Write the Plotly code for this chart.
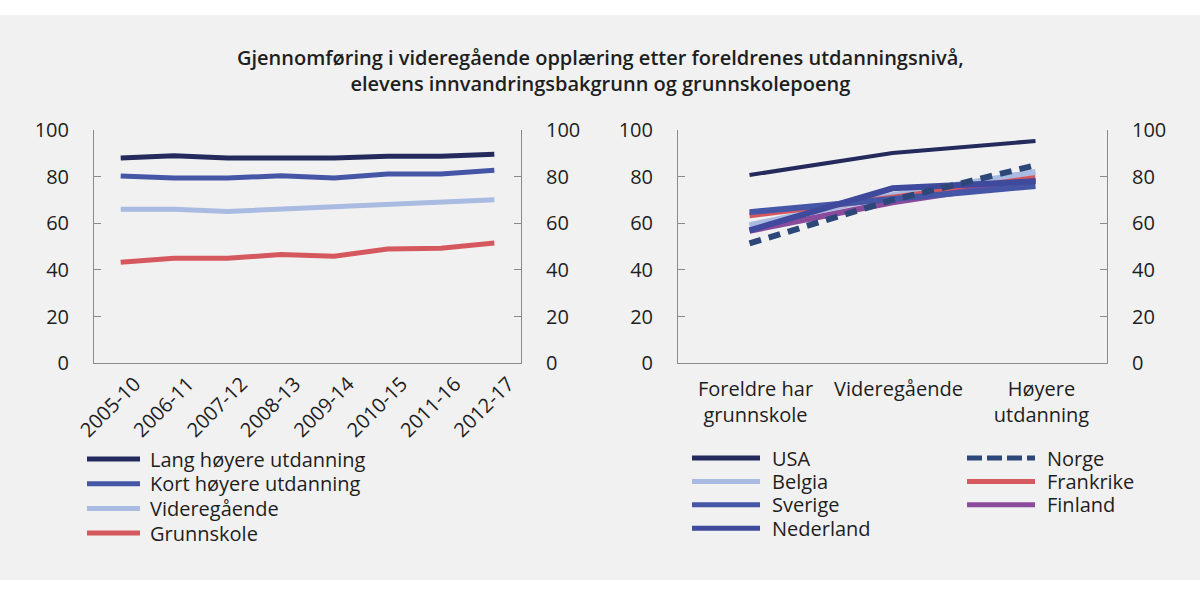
import plotly.graph_objects as go

# left panel: by parents' education, cohorts
periods = ["2005-10", "2006-11", "2007-12", "2008-13", "2009-14", "2010-15", "2011-16", "2012-17"]
lang_hoyere = [88, 89, 88, 88, 88, 88.7, 88.7, 89.6]
kort_hoyere = [80.3, 79.4, 79.4, 80.4, 79.4, 81.1, 81.1, 82.7]
videregaaende = [66, 66, 65.1, 66.1, 66.9, 68.4, 69.4, 70.1]
grunnskole = [43.3, 45, 45, 46.6, 45.9, 49, 49.3, 51.6]

# right panel: countries by parents' education level
levels = ["Foreldre har<br>grunnskole", "Videregående", "Høyere<br>utdanning"]
usa = [80.7, 90.1, 95.3]
belgia = [59.2, 72, 82]
sverige = [64.8, 70.5, 76]
nederland = [57, 75, 78]
norge = [51.4, 70, 84.9]
frankrike = [63.4, 71, 79.4]
finland = [56.8, 69, 78.3]

W, H = 1200, 595
FONT = "Open Sans, Noto Sans, sans-serif"
TXT = "#1e1e1e"
AX = "#8a8a8a"
FS = 20


def px(x):
    return x / W


def py(y):
    return 1 - y / H


left_series = [
    ("Lang høyere utdanning", lang_hoyere, "#252a5c", "solid"),
    ("Kort høyere utdanning", kort_hoyere, "#4656a6", "solid"),
    ("Videregående", videregaaende, "#a9bbe1", "solid"),
    ("Grunnskole", grunnskole, "#d6585f", "solid"),
]

right_series = [
    ("USA", usa, "#252a5c", "solid", 4),
    ("Belgia", belgia, "#a9bbe1", "solid", 6),
    ("Frankrike", frankrike, "#d6585f", "solid", 6),
    ("Finland", finland, "#8a4b9d", "solid", 6),
    ("Sverige", sverige, "#4656a6", "solid", 6),
    ("Nederland", nederland, "#3f4a9c", "solid", 6),
    ("Norge", norge, "#2c4778", "12px,8px", 6),
]

fig = go.Figure()

for name, vals, color, dash in left_series[::-1]:
    fig.add_trace(go.Scatter(
        x=periods, y=vals, mode="lines", name=name,
        line={"color": color, "width": 5, "dash": dash},
        xaxis="x", yaxis="y", showlegend=False,
    ))

for name, vals, color, dash, width in right_series:
    fig.add_trace(go.Scatter(
        x=levels, y=vals, mode="lines", name=name,
        line={"color": color, "width": width, "dash": dash},
        xaxis="x2", yaxis="y3", showlegend=False,
    ))

# empty traces so the mirrored right-hand axes get drawn with labels
fig.add_trace(go.Scatter(x=[], y=[], xaxis="x", yaxis="y2", showlegend=False, hoverinfo="skip"))
fig.add_trace(go.Scatter(x=[], y=[], xaxis="x2", yaxis="y4", showlegend=False, hoverinfo="skip"))

ydom = [py(363.3), py(130)]
yaxis_common = dict(
    range=[0, 100], tickvals=[0, 20, 40, 60, 80, 100],
    showgrid=False, zeroline=False, showline=True, linecolor=AX, linewidth=1,
    ticks="inside", ticklen=7, tickcolor=AX, automargin=False,
    tickfont={"size": FS, "color": TXT}, ticklabelstandoff=20,
    domain=ydom,
)
xaxis_common = dict(
    type="category", showline=True, linecolor=AX, linewidth=1,
    showgrid=False, ticks="", automargin=False,
    tickfont={"size": FS, "color": TXT},
)

shapes = [dict(type="rect", xref="paper", yref="paper", x0=0, x1=1,
               y0=py(580), y1=py(15), fillcolor="#f1f1f1", line={"width": 0},
               layer="below")]
annotations = [dict(
    text="Gjennomføring i videregående opplæring etter foreldrenes utdanningsnivå,"
         "<br>elevens innvandringsbakgrunn og grunnskolepoeng",
    xref="paper", yref="paper", x=0.5, y=py(70.5), xanchor="center", yanchor="middle",
    showarrow=False, font={"size": FS, "color": TXT, "family": FONT, "weight": 600},
)]


def legend_entry(name, color, dash, x0, x1, xt, y):
    if dash != "solid":
        dash = "15px,5px"
    shapes.append(dict(type="line", xref="paper", yref="paper",
                       x0=px(x0), x1=px(x1), y0=py(y), y1=py(y),
                       line={"color": color, "width": 5, "dash": dash}))
    annotations.append(dict(text=name, xref="paper", yref="paper", x=px(xt), y=py(y),
                            xanchor="left", yanchor="middle", showarrow=False,
                            borderpad=0,
                            font={"size": FS, "color": TXT, "family": FONT}))


for i, (name, vals, color, dash) in enumerate(left_series):
    legend_entry(name, color, dash, 87, 140, 149, 459 + i * 24.7)

lookup = {s[0]: s for s in right_series}
for i, name in enumerate(["USA", "Belgia", "Sverige", "Nederland"]):
    legend_entry(name, lookup[name][2], lookup[name][3], 692, 760, 771, 458 + i * 23.4)
for i, name in enumerate(["Norge", "Frankrike", "Finland"]):
    legend_entry(name, lookup[name][2], lookup[name][3], 967, 1035, 1046, 458 + i * 23.4)

fig.update_layout(
    width=W, height=H, autosize=False,
    margin={"l": 0, "r": 0, "t": 0, "b": 0, "pad": 0},
    paper_bgcolor="white", plot_bgcolor="rgba(0,0,0,0)",
    font={"family": FONT, "color": TXT, "size": FS},
    showlegend=False,
    xaxis=dict(domain=[px(94), px(521)], anchor="y", range=[-0.5, 7.5],
               tickangle=-45, ticklabelshift=14, ticklabelstandoff=0, **xaxis_common),
    yaxis=dict(anchor="x", side="left", **yaxis_common),
    yaxis2=dict(anchor="x", side="right", overlaying="y", **yaxis_common),
    xaxis2=dict(domain=[px(678), px(1107)], anchor="y3", range=[-0.5, 2.5],
                tickangle=0, ticklabelshift=6, ticklabelstandoff=8, **xaxis_common),
    yaxis3=dict(anchor="x2", side="left", **yaxis_common),
    yaxis4=dict(anchor="x2", side="right", overlaying="y3", **yaxis_common),
    shapes=shapes,
    annotations=annotations,
)

fig.write_html("out.html", config={"displayModeBar": False},
               post_script="document.body.style.margin = '0';")
